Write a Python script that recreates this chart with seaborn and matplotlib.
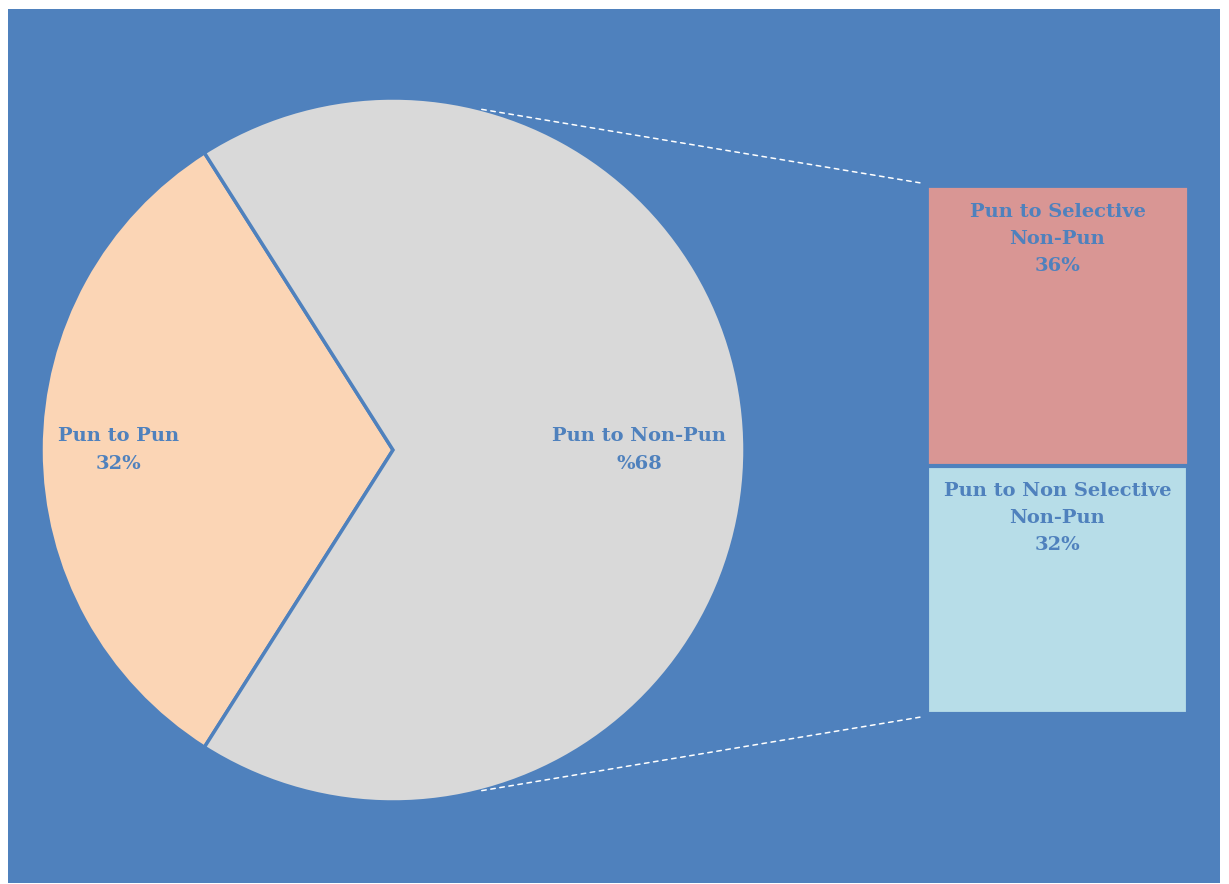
import numpy as np
import pandas as pd
import seaborn as sns
import matplotlib.pyplot as plt
from matplotlib.patches import ConnectionPatch

# dados
pie_labels = ['Pun to Pun', 'Pun to Non-Pun']
pie_values = [32, 68]
pie_texts = ['32%', '%68']

bar_labels = ['Pun to Non Selective\nNon-Pun', 'Pun to Selective\nNon-Pun']
bar_values = [32, 36]
bar_texts = ['32%', '36%']

# cores
azul = '#4F81BD'
pie_colors = ['#FBD5B5', '#D9D9D9']
bar_colors = ['#B7DDE8', '#D99694']

sns.set_style('white')
plt.rcParams['font.family'] = ['DejaVu Serif']

W, H = 1229, 884
fig = plt.figure(figsize=(W / 100, H / 100), dpi=100)
fig.patch.set_facecolor('white')

# fundo azul
bg = fig.add_axes([8 / W, 1 / H, 1212 / W, 874 / H])
bg.set_facecolor(azul)
bg.set_xticks([])
bg.set_yticks([])
for s in bg.spines.values():
    s.set_visible(False)

# pizza
cx, cy, r = 393, 450, 352
ax_pie = fig.add_axes([(cx - r) / W, (H - cy - r) / H, 2 * r / W, 2 * r / H])
start = 180 - pie_values[0] / sum(pie_values) * 360 / 2
wedges, _ = ax_pie.pie(pie_values, colors=pie_colors, startangle=start,
                       counterclock=True,
                       wedgeprops=dict(edgecolor=azul, linewidth=2.5))
ax_pie.set_xlim(-1, 1)
ax_pie.set_ylim(-1, 1)
ax_pie.set_aspect('equal')
ax_pie.axis('off')

dist = [0.78, 0.70]
for w, lab, txt, d in zip(wedges, pie_labels, pie_texts, dist):
    ang = np.deg2rad((w.theta1 + w.theta2) / 2)
    ax_pie.text(d * np.cos(ang), d * np.sin(ang), lab + '\n' + txt,
                ha='center', va='center', color=azul, fontsize=14,
                fontweight='bold', linespacing=1.65)

# barra empilhada
ax_bar = fig.add_axes([927 / W, (H - 714) / H, (1188 - 927) / W, (714 - 186) / H])
df = pd.DataFrame({'cat': ['x'], 'total': [sum(bar_values)], 'base': [bar_values[0]]})
sns.barplot(x='cat', y='total', data=df, color=bar_colors[1], width=1,
            edgecolor=azul, linewidth=2, saturation=1, ax=ax_bar)
sns.barplot(x='cat', y='base', data=df, color=bar_colors[0], width=1,
            edgecolor=azul, linewidth=3, saturation=1, ax=ax_bar)
ax_bar.set_xlim(-0.5, 0.5)
ax_bar.set_ylim(0, sum(bar_values))
ax_bar.axis('off')

tops = np.cumsum(bar_values)
for top, lab, txt in zip(tops, bar_labels, bar_texts):
    ax_bar.annotate(lab + '\n' + txt, xy=(0, top), xytext=(0, -12),
                    textcoords='offset points', ha='center', va='top',
                    color=azul, fontsize=14, fontweight='bold', linespacing=1.65)

# linhas tracejadas
ang = 75.4
for sgn, yb in [(1, 1.0), (-1, 0.0)]:
    a = np.deg2rad(sgn * ang)
    con = ConnectionPatch(xyA=(np.cos(a), np.sin(a)), coordsA=ax_pie.transData,
                          xyB=(-0.027, yb + sgn * 0.006), coordsB=ax_bar.transAxes,
                          color='white', linestyle=(0, (3, 3)), linewidth=1.1)
    fig.add_artist(con)

plt.savefig('out.png', dpi=100, facecolor='white')
